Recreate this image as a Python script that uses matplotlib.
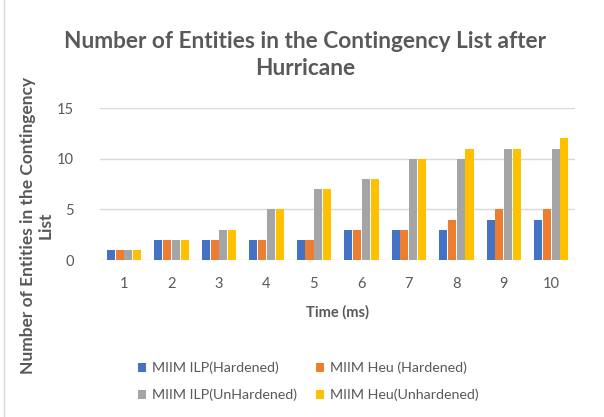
import matplotlib
matplotlib.use("Agg")
import matplotlib.pyplot as plt
import numpy as np

categories = ["1", "2", "3", "4", "5", "6", "7", "8", "9", "10"]
series_names = ["MIIM ILP(Hardened)", "MIIM Heu (Hardened)", "MIIM ILP(UnHardened)", "MIIM Heu(Unhardened)"]
ilp_hard = [1, 2, 2, 2, 2, 3, 3, 3, 4, 4]
heu_hard = [1, 2, 2, 2, 2, 3, 3, 4, 5, 5]
ilp_unhard = [1, 2, 3, 5, 7, 8, 10, 10, 11, 11]
heu_unhard = [1, 2, 3, 5, 7, 8, 10, 11, 11, 12]
colors = ["#4472C4", "#ED7D31", "#A5A5A5", "#FFC000"]

plt.rcParams['font.family'] = ['Lato', 'DejaVu Sans']
txt = "#595959"

fig = plt.figure(figsize=(6.04, 4.17), dpi=100)
ax = fig.add_axes([0.166, 0.376, 0.786, 0.365])

x = np.arange(len(categories))
w = 0.17
gap = 0.015
all_series = [ilp_hard, heu_hard, ilp_unhard, heu_unhard]
for i, (vals, c, name) in enumerate(zip(all_series, colors, series_names)):
    off = (i - 1.5) * (w + gap)
    ax.bar(x + off, vals, width=w, color=c, label=name, zorder=3)

ax.set_ylim(0, 15)
ax.set_yticks([0, 5, 10, 15])
ax.set_xlim(-0.5, len(categories) - 0.5)
ax.set_xticks(x)
ax.set_xticklabels(categories)
ax.grid(axis='y', color='#D9D9D9', linewidth=1, zorder=0)
for s in ax.spines.values():
    s.set_visible(False)
ax.tick_params(axis='both', length=0, colors=txt, labelsize=10.5)
ax.tick_params(axis='x', pad=12)
ax.tick_params(axis='y', pad=19)

ax.set_xlabel("Time (ms)", color=txt, fontsize=10.5, fontweight='bold', labelpad=10)
fig.text(0.061, 0.46, "Number of Entities in the Contingency\nList", rotation=90,
         ha='center', va='center', color=txt, fontsize=12.5, fontweight='bold', linespacing=1.15)

fig.text(0.505, 0.868, "Number of Entities in the Contingency List after\nHurricane",
         ha='center', va='center', color=txt, fontsize=16.3, fontweight='bold', linespacing=1.4)

handles, labels = ax.get_legend_handles_labels()
order = [0, 2, 1, 3]
fig.legend([handles[i] for i in order], [labels[i] for i in order], loc='center',
           bbox_to_anchor=(0.51, 0.085), ncol=2,
           frameon=False, fontsize=10.3, labelcolor=txt, handlelength=0.6, handleheight=0.6,
           handletextpad=0.4, columnspacing=1.3, labelspacing=1.0)

fig.add_artist(plt.Line2D([0.007, 0.007], [0.0, 1.0], color='#D9D9D9', linewidth=1))

fig.savefig("out.png", dpi=100)
